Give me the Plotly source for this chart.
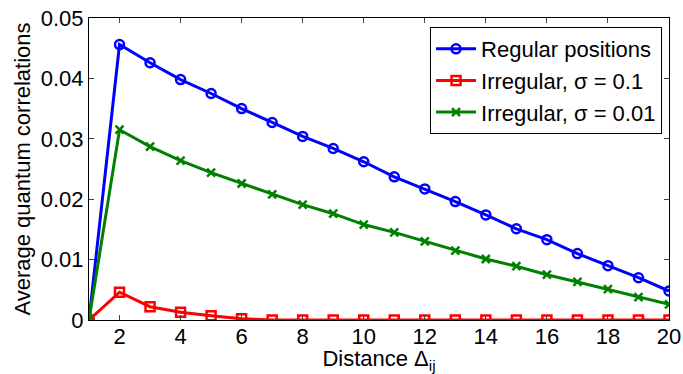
import plotly.graph_objects as go

distance = list(range(1, 21))
regular = [0.0, 0.0456, 0.0426, 0.0398, 0.0375, 0.0350, 0.0327, 0.0304, 0.0284, 0.0262,
           0.0237, 0.0217, 0.0196, 0.0174, 0.0151, 0.0133, 0.0110, 0.0090, 0.0070, 0.0048]
irr_01 = [0.0, 0.0046, 0.0022, 0.0013, 0.0007, 0.0002, 0.0, 0.0, 0.0, 0.0,
          0.0, 0.0, 0.0, 0.0, 0.0, 0.0, 0.0, 0.0, 0.0, 0.0]
irr_001 = [0.0, 0.0315, 0.0287, 0.0264, 0.0244, 0.0226, 0.0208, 0.0191, 0.0176, 0.0158,
           0.0145, 0.0130, 0.0115, 0.0101, 0.0089, 0.0075, 0.0063, 0.0051, 0.0038, 0.0026]
x_ticks = [2, 4, 6, 8, 10, 12, 14, 16, 18, 20]
y_ticks = [0, 0.01, 0.02, 0.03, 0.04, 0.05]
y_labels = ["0", "0.01", "0.02", "0.03", "0.04", "0.05"]

FONT = "Liberation Sans, Arial, sans-serif"

fig = go.Figure()
fig.add_trace(go.Scatter(x=distance, y=regular, mode="lines+markers", name="Regular positions",
                         line=dict(color="#0000ff", width=3),
                         marker=dict(symbol="circle-open", size=9, color="#0000ff", line=dict(width=2.5))))
fig.add_trace(go.Scatter(x=distance, y=irr_01, mode="lines+markers", name="Irregular, σ = 0.1",
                         line=dict(color="#ff0000", width=3),
                         marker=dict(symbol="square-open", size=9, color="#ff0000", line=dict(width=2.5))))
fig.add_trace(go.Scatter(x=distance, y=irr_001, mode="lines+markers", name="Irregular, σ = 0.01",
                         line=dict(color="#008000", width=3),
                         marker=dict(symbol="x-thin-open", size=8, color="#008000", line=dict(width=2.5, color="#008000"))))

fig.update_layout(
    width=683, height=374,
    margin=dict(l=89, r=14, t=18, b=54, autoexpand=False),
    paper_bgcolor="white", plot_bgcolor="white",
    font=dict(family=FONT, size=22, color="black"),
    legend=dict(x=0.988, y=0.97, xanchor="right", yanchor="top",
                bordercolor="black", borderwidth=1, bgcolor="white",
                font=dict(size=22), itemwidth=40, tracegroupgap=0),
)
fig.update_xaxes(range=[1, 20], tickvals=x_ticks, ticks="inside", ticklen=5, automargin=False,
                 ticklabelstandoff=-3,
                 showline=True, linecolor="black", linewidth=1, mirror="allticks",
                 showgrid=False, zeroline=False, tickfont=dict(size=22),
                 title=dict(text="Distance Δ<sub>ij</sub>", font=dict(size=22), standoff=2))
fig.update_yaxes(range=[0, 0.05], tickvals=y_ticks, ticktext=y_labels, ticks="inside", ticklen=5, automargin=False,
                 showline=True, linecolor="black", linewidth=1, mirror="allticks",
                 showgrid=False, zeroline=False, tickfont=dict(size=22),
                 title=dict(text="Average quantum correlations", font=dict(size=22), standoff=4))

fig.write_html("out.html")
